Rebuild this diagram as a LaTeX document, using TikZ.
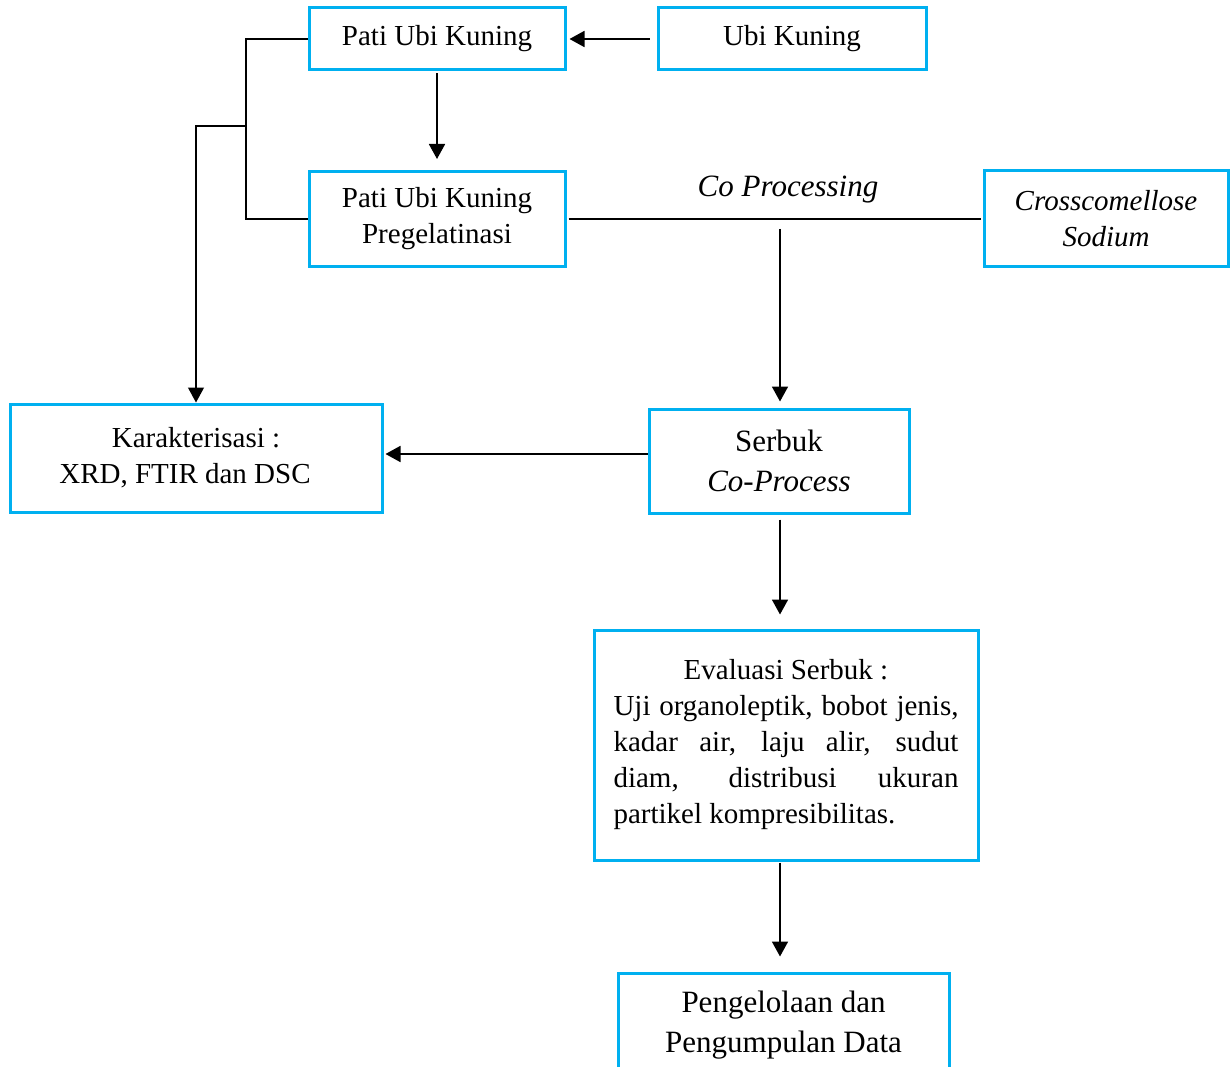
\documentclass[tikz,border=0pt]{standalone}
\usepackage{fontspec}
\setmainfont{Liberation Serif}
\usetikzlibrary{arrows.meta}
\definecolor{boxblue}{RGB}{0,176,240}
\begin{document}
\begin{tikzpicture}[x=1pt,y=-1pt,
  box/.style={draw=boxblue, line width=3pt, align=center, inner sep=0pt,
    font=\fontsize{29}{36}\selectfont},
  bigtext/.style={font=\fontsize{31}{40}\selectfont},
  arr/.style={line width=1.8pt, -{Triangle[width=16pt,length=15pt]}},
  thinarr/.style={line width=1.2pt, -{Triangle[width=16pt,length=15pt]}},
  thinline/.style={line width=1.2pt}]
\clip (0,0) rectangle (1231,1067);
\fill[white] (0,0) rectangle (1231,1067);

% boxes
\node[box, minimum width=256, minimum height=62] (pati) at (437,39) {Pati Ubi Kuning};
\node[box, minimum width=268, minimum height=62] (ubi) at (792,39) {Ubi Kuning};
\node[box, minimum width=256, minimum height=95] (pregel) at (437,219) {Pati Ubi Kuning\\Pregelatinasi};
\node[box, minimum width=244, minimum height=96] (cross) at (1106,219) {\itshape Crosscomellose\\\itshape Sodium};
\node[box, minimum width=372, minimum height=108] (kar) at (196,458) {Karakterisasi :\\XRD, FTIR dan DSC\hspace*{22pt}};
\node[box, bigtext, minimum width=260, minimum height=104] (serbuk) at (779,461) {Serbuk\\\itshape Co-Process};
\node[box, text width=345pt, align=justify, minimum width=384, minimum height=230] (eval) at (786,745)
  {\hyphenpenalty=10000\tolerance=9999\noindent\makebox[\linewidth][c]{Evaluasi Serbuk :}\par
   \noindent Uji organoleptik, bobot jenis,\linebreak kadar air, laju alir, sudut\linebreak diam, distribusi ukuran\linebreak partikel kompresibilitas.\par};
\node[box, bigtext, minimum width=331, minimum height=104] (peng) at (783.5,1025) {Pengelolaan dan\\Pengumpulan Data};

% label
\node[font=\fontsize{31}{40}\selectfont\itshape] (cplabel) at (788,190) {Co Processing};

% coordinates
\coordinate (br) at (246,126);
\coordinate (cp) at (780,229);

% connectors
\draw[arr, shorten <=7pt, shorten >=3pt] (ubi.west) -- (pati.east);
\draw[arr, shorten <=2pt, shorten >=11pt] (pati.south) -- (pregel.north);
\draw[thinline] (pati.west) -| (br) |- (pregel.west);
\draw[thinarr] (br) -| (kar.north);
\draw[thinline, shorten <=2pt, shorten >=2pt] (pregel.east) -- (pregel.east -| cross.west);
\draw[arr, shorten >=6pt] (cp) -- (cp |- serbuk.north);
\draw[arr, shorten >=2pt] ([yshift=7pt]serbuk.west) -- ([yshift=4pt]kar.east);
\draw[arr, shorten <=5pt, shorten >=14pt] ([xshift=1pt]serbuk.south) -- ([xshift=1pt]serbuk.south |- eval.north);
\draw[arr, shorten <=1pt, shorten >=15pt] ([xshift=-6pt]eval.south) -- ([xshift=-6pt]eval.south |- peng.north);
\end{tikzpicture}
\end{document}
